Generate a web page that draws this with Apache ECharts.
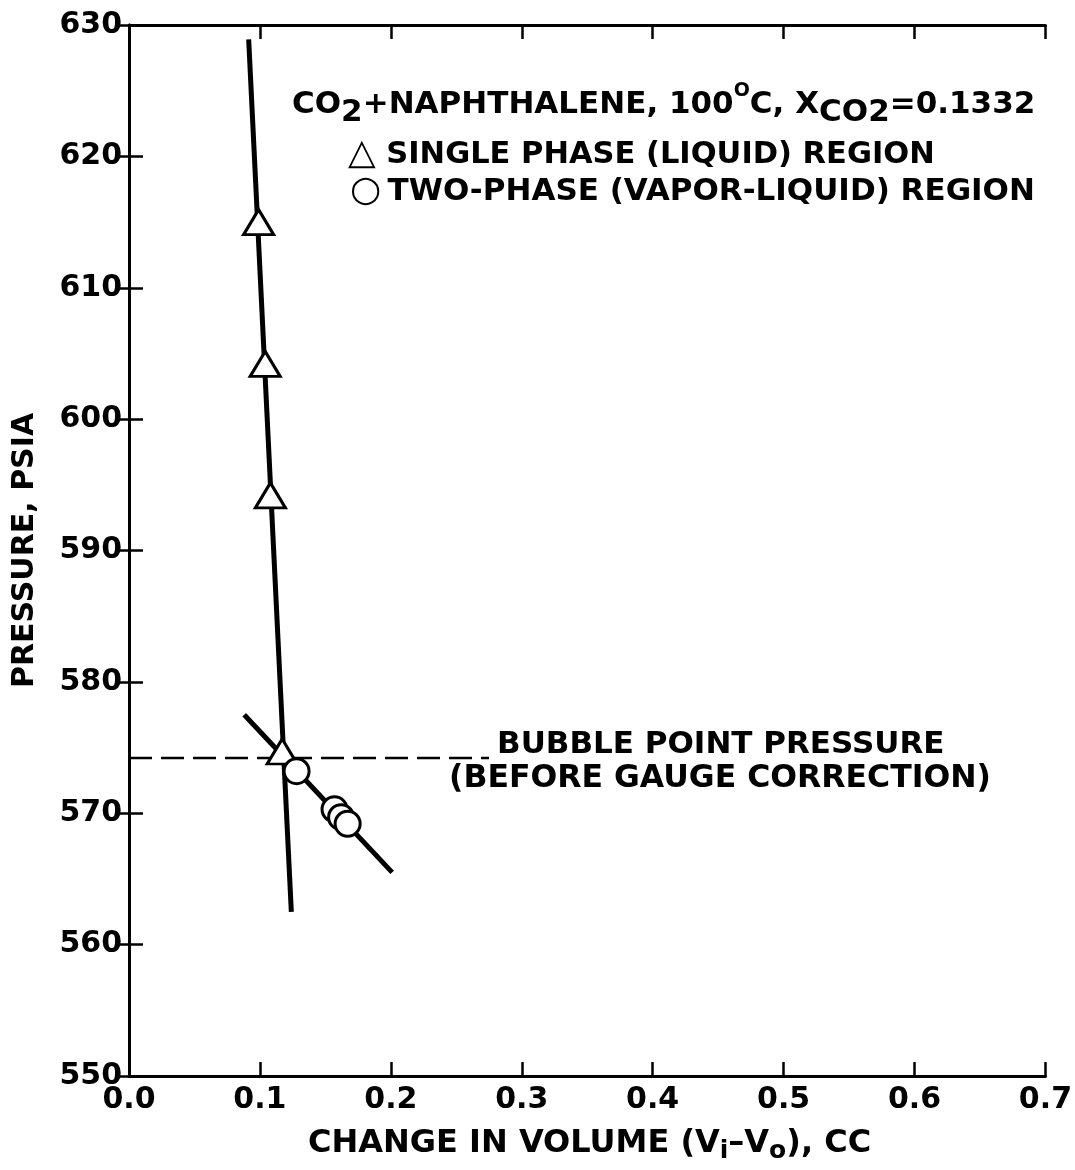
<!DOCTYPE html>
<html lang="en">
<head>
<meta charset="UTF-8">
<title>CO2 + Naphthalene bubble point</title>
<script src="https://cdn.jsdelivr.net/npm/echarts@6/dist/echarts.min.js"></script>
<style>
    html, body { margin: 0; padding: 0; background: #fff; }
    #chart { width: 1075px; height: 1170px; }
</style>
</head>
<body>
<div id="chart"></div>
<script>
// single phase (liquid) region, triangles
const liquidVol = [0.099, 0.104, 0.108, 0.117];
const liquidPres = [615.0, 604.2, 594.2, 574.7];
// two-phase (vapor-liquid) region, circles
const twoPhaseVol = [0.128, 0.157, 0.162, 0.167];
const twoPhasePres = [573.2, 570.3, 569.7, 569.2];
// straight lines drawn through the points (end points)
const liquidFitVol = [0.0914, 0.124];
const liquidFitPres = [628.9, 562.5];
const twoPhaseFitVol = [0.088, 0.201];
const twoPhaseFitPres = [577.5, 565.5];
// bubble point pressure, dashed
const bubbleVol = [0.0, 0.275];
const bubblePres = [574.2, 574.2];

const xTickLabels = ['0.0', '0.1', '0.2', '0.3', '0.4', '0.5', '0.6', '0.7'];
const yTickLabels = ['550', '560', '570', '580', '590', '600', '610', '620', '630'];

const FONT = 'DejaVu Sans';
const pairs = (xs, ys) => xs.map((x, i) => [x, ys[i]]);

const chart = echarts.init(document.getElementById('chart'));

const frameAxis = {
    axisLine: { show: true, lineStyle: { color: '#000', width: 3 } },
    axisTick: { show: true, inside: true, length: 14, lineStyle: { color: '#000', width: 2.5 } },
    splitLine: { show: false }
};

const txt = (extra) => Object.assign({ fontFamily: FONT, fontWeight: 'bold', fill: '#000' }, extra);

chart.setOption({
    animation: false,
    backgroundColor: '#fff',
    grid: { left: 129, right: 27, top: 25, bottom: 94 },
    xAxis: [
        Object.assign({
            type: 'value', min: 0, max: 0.7, interval: 0.1, position: 'bottom',
            axisLabel: {
                margin: 9, color: '#000', fontFamily: FONT, fontWeight: 'bold', fontSize: 30,
                formatter: v => xTickLabels[Math.round(v * 10)]
            }
        }, frameAxis),
        Object.assign({
            type: 'value', min: 0, max: 0.7, interval: 0.1, position: 'top',
            axisLabel: { show: false }
        }, frameAxis)
    ],
    yAxis: [
        Object.assign({
            type: 'value', min: 550, max: 630, interval: 10, position: 'left',
            name: 'PRESSURE, PSIA', nameLocation: 'middle', nameGap: 89, nameRotate: 90,
            nameTextStyle: { color: '#000', fontFamily: FONT, fontWeight: 'bold', fontSize: 30 },
            axisLabel: {
                margin: 7, color: '#000', fontFamily: FONT, fontWeight: 'bold', fontSize: 30,
                formatter: v => yTickLabels[Math.round((v - 550) / 10)]
            }
        }, frameAxis),
        Object.assign({
            type: 'value', min: 550, max: 630, interval: 10, position: 'right',
            axisLabel: { show: false }
        }, frameAxis)
    ],
    series: [
        {
            type: 'line', data: pairs(bubbleVol, bubblePres), symbol: 'none',
            lineStyle: { color: '#000', width: 2.5, type: [23, 9] }, z: 2
        },
        {
            type: 'line', data: pairs(liquidFitVol, liquidFitPres), symbol: 'none',
            lineStyle: { color: '#000', width: 5 }, z: 3
        },
        {
            type: 'line', data: pairs(twoPhaseFitVol, twoPhaseFitPres), symbol: 'none',
            lineStyle: { color: '#000', width: 5 }, z: 3
        },
        {
            type: 'scatter', data: pairs(liquidVol, liquidPres), symbol: 'triangle',
            symbolSize: [30, 25],
            itemStyle: { color: '#fff', borderColor: '#000', borderWidth: 3, opacity: 1 }, z: 5
        },
        {
            type: 'scatter', data: pairs(twoPhaseVol, twoPhasePres), symbol: 'circle',
            symbolSize: 25,
            itemStyle: { color: '#fff', borderColor: '#000', borderWidth: 3, opacity: 1 }, z: 5
        }
    ],
    graphic: [
        {
            type: 'text', left: 292, top: 82, z: 10,
            style: {
                text: '{m|CO}{s|2}{m|+NAPHTHALENE, 100}{u|O}{m|C, X}{s|CO2}{m|=0.1332}',
                rich: {
                    m: txt({ fontSize: 31, lineHeight: 46, verticalAlign: 'middle' }),
                    s: txt({ fontSize: 31, lineHeight: 22, verticalAlign: 'bottom' }),
                    u: txt({ fontSize: 19, lineHeight: 20, verticalAlign: 'top' })
                }
            }
        },
        {
            type: 'text', left: 348, top: 137, z: 10,
            style: {
                text: '{g|\u25B3}{m| SINGLE PHASE (LIQUID) REGION}',
                rich: {
                    g: { fontFamily: FONT, fontSize: 36, lineHeight: 38, fill: '#000' },
                    m: txt({ fontSize: 30.5, lineHeight: 38 })
                }
            }
        },
        {
            type: 'text', left: 350, top: 174, z: 10,
            style: {
                text: '{g|\u25CB}{m|\u2009TWO-PHASE (VAPOR-LIQUID) REGION}',
                rich: {
                    g: { fontFamily: FONT, fontSize: 36, lineHeight: 38, fill: '#000' },
                    m: txt({ fontSize: 31, lineHeight: 38 })
                }
            }
        },
        {
            type: 'text', left: 497, top: 729, z: 10,
            style: txt({ text: 'BUBBLE POINT PRESSURE', fontSize: 31 })
        },
        {
            type: 'text', left: 449, top: 763, z: 10,
            style: txt({ text: '(BEFORE GAUGE CORRECTION)', fontSize: 31.5 })
        },
        {
            type: 'text', left: 308, top: 1128, z: 10,
            style: {
                text: '{m|CHANGE IN VOLUME (V}{s|i}{m|\u2013V}{s|o}{m|), CC}',
                rich: {
                    m: txt({ fontSize: 32, lineHeight: 40, verticalAlign: 'middle' }),
                    s: txt({ fontSize: 25, lineHeight: 20, verticalAlign: 'bottom' })
                }
            }
        }
    ]
});
</script>
</body>
</html>
